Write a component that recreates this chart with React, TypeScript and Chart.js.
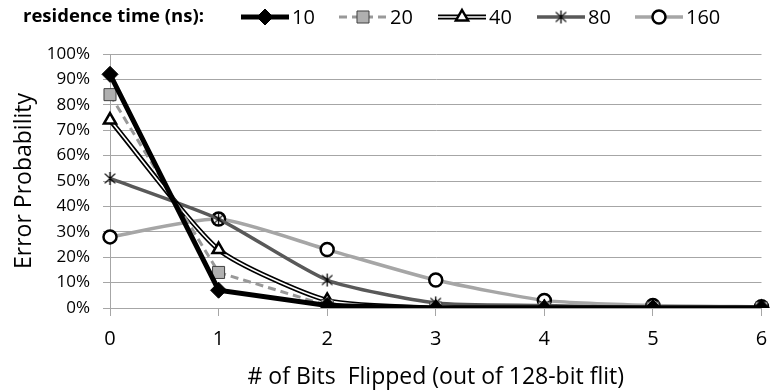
import React, { useEffect, useRef } from "react";
import { Chart, registerables } from "chart.js";
import { drawPoint } from "chart.js/helpers";

Chart.register(...registerables);

const categories = ["0", "1", "2", "3", "4", "5", "6"];
const seriesNames = ["10", "20", "40", "80", "160"];
const s10 = [92, 7, 1, 0, 0, 0, 0];
const s20 = [84, 14, 1, 0, 0, 0, 0];
const s40 = [74, 23, 3, 0, 0, 0, 0];
const s80 = [51, 35, 11, 2, 1, 0, 0];
const s160 = [28, 35, 23, 11, 3, 1, 0.5];
const legendTitle = "residence time (ns):";
const xTitle = "# of Bits  Flipped (out of 128-bit flit)";
const yTitle = "Error Probability";

const FONT = "'Open Sans', Lato, sans-serif";

function makeStar(size: number, color: string, lw: number) {
  const c = document.createElement("canvas");
  c.width = size;
  c.height = size;
  const g = c.getContext("2d")!;
  g.strokeStyle = color;
  g.lineWidth = lw;
  const h = size / 2;
  const r = size / 2 - 1;
  const dx = r * 0.8;
  const dy = r * 0.75;
  g.beginPath();
  g.moveTo(h, h - r);
  g.lineTo(h, h + r);
  g.moveTo(h - dx, h - dy);
  g.lineTo(h + dx, h + dy);
  g.moveTo(h + dx, h - dy);
  g.lineTo(h - dx, h + dy);
  g.stroke();
  return c;
}

export default function App() {
  const ref = useRef<HTMLCanvasElement | null>(null);

  useEffect(() => {
    document.body.style.margin = "0";
    const star = makeStar(15, "#000", 1.3);

    const styles = [
      { line: "#000", width: 5, dash: [] as number[], point: "rectRot", r: 8, fill: "#000", border: "#000", bw: 1 },
      { line: "#999999", width: 3, dash: [8, 5], point: "rect", r: 8.5, fill: "#b0b0b0", border: "#404040", bw: 1 },
      { line: "#fff", width: 1.6, dash: [] as number[], point: "triangle", r: 7, fill: "#fff", border: "#000", bw: 2.5, double: true },
      { line: "#595959", width: 3.5, dash: [] as number[], point: star as any, r: 7, fill: "#000", border: "#000", bw: 1 },
      { line: "#a6a6a6", width: 3.5, dash: [] as number[], point: "circle", r: 6.5, fill: "#fff", border: "#000", bw: 2.5 },
    ];

    const legendPlugin = {
      id: "topLegend",
      afterDraw(chart: any) {
        const ctx = chart.ctx as CanvasRenderingContext2D;
        ctx.save();
        ctx.fillStyle = "#000";
        ctx.textBaseline = "middle";
        ctx.textAlign = "left";
        ctx.font = `bold 18.5px ${FONT}`;
        ctx.fillText(legendTitle, 23, 17);
        const starts = [241, 339, 438, 537, 635];
        const len = 48;
        const y = 17;
        seriesNames.forEach((name, i) => {
          const st = styles[i];
          const x0 = starts[i];
          const x1 = x0 + len;
          if ((st as any).double) {
            ctx.setLineDash([]);
            ctx.strokeStyle = "#000";
            ctx.lineWidth = 5;
            ctx.beginPath();
            ctx.moveTo(x0, y);
            ctx.lineTo(x1, y);
            ctx.stroke();
          }
          ctx.setLineDash(st.dash);
          ctx.strokeStyle = st.line;
          ctx.lineWidth = st.width;
          ctx.beginPath();
          ctx.moveTo(x0, y);
          ctx.lineTo(x1, y);
          ctx.stroke();
          ctx.setLineDash([]);
          ctx.fillStyle = st.fill;
          ctx.strokeStyle = st.border;
          ctx.lineWidth = st.bw;
          drawPoint(ctx, { pointStyle: st.point, radius: st.r, rotation: 0, borderWidth: st.bw } as any, (x0 + x1) / 2, y);
          ctx.fillStyle = "#000";
          ctx.font = `20px ${FONT}`;
          ctx.fillText(name, x1 + 3, y + 1);
        });
        ctx.restore();
      },
    };

    const allSeries = [s10, s20, s40, s80, s160];
    const datasets: any[] = [];
    allSeries.forEach((data, i) => {
      const st = styles[i];
      const tension = i >= 2 ? 0.2 : 0;
      datasets.push({
        label: seriesNames[i],
        data,
        borderColor: st.line,
        borderWidth: st.width,
        borderDash: st.dash,
        tension,
        pointStyle: st.point,
        pointRadius: st.r,
        pointBackgroundColor: st.fill,
        pointBorderColor: st.border,
        pointBorderWidth: st.bw,
        fill: false,
      });
      if ((st as any).double) {
        datasets.push({
          label: seriesNames[i] + "-outer",
          data,
          borderColor: "#000",
          borderWidth: 5,
          tension,
          pointRadius: 0,
          fill: false,
        });
      }
    });

    const chart = new Chart(ref.current!, {
      type: "line",
      data: { labels: categories, datasets },
      options: {
        responsive: false,
        animation: false,
        layout: { padding: { top: 54, right: 3, left: 0, bottom: 0 } },
        plugins: {
          legend: { display: false },
          tooltip: { enabled: false },
        },
        scales: {
          x: {
            offset: false,
            grid: { drawOnChartArea: false, drawTicks: true, tickLength: 8, color: "#a6a6a6" },
            border: { color: "#a6a6a6" },
            ticks: { color: "#000", font: { family: FONT, size: 20 }, padding: 11, maxRotation: 0 },
            title: {
              display: true,
              text: xTitle,
              color: "#000",
              font: { family: FONT, size: 23 },
              padding: { top: 16, bottom: 0 },
            },
            afterFit(scale: any) {
              scale.height = 83;
              scale.paddingLeft = 0;
              scale.paddingRight = 0;
            },
          },
          y: {
            min: 0,
            max: 100,
            grid: { color: "#a6a6a6", tickLength: 7, drawTicks: true },
            border: { color: "#a6a6a6" },
            ticks: {
              stepSize: 10,
              color: "#000",
              font: { family: FONT, size: 17 },
              padding: 13,
              callback: (v: any) => v + "%",
            },
            title: {
              display: true,
              text: yTitle,
              color: "#000",
              font: { family: FONT, size: 23 },
              padding: { top: 11, bottom: 0 },
            },
            afterFit(scale: any) {
              scale.width = 110;
            },
          },
        },
      } as any,
      plugins: [legendPlugin],
    });
    return () => chart.destroy();
  }, []);

  return (
    <div style={{ width: 771, height: 391 }}>
      <canvas ref={ref} width={771} height={391} />
    </div>
  );
}
